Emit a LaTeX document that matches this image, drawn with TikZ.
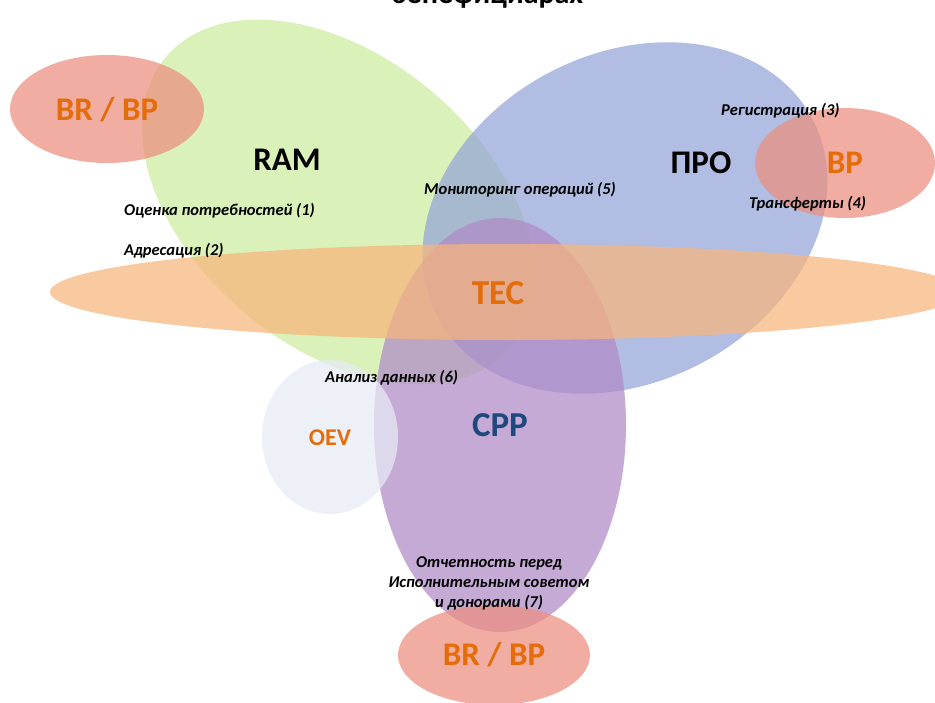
\documentclass[tikz,border=0pt]{standalone}
\usepackage{fontspec}
\setmainfont{Carlito}
\definecolor{cgreen}{RGB}{205,236,159}
\definecolor{cblue}{RGB}{148,164,215}
\definecolor{corange}{RGB}{248,181,124}
\definecolor{cpurple}{RGB}{176,138,199}
\definecolor{csalmon}{RGB}{236,142,126}
\definecolor{coev}{RGB}{231,235,245}
\definecolor{torange}{RGB}{228,108,10}
\definecolor{tblue}{RGB}{31,73,125}
\begin{document}
\begin{tikzpicture}[x=1pt,y=-1pt,
  blob/.style={fill opacity=0.72},
  big/.style={font=\fontsize{33}{35}\selectfont\bfseries, inner sep=0pt},
  bigor/.style={big, text=torange},
  lbl/.style={font=\fontsize{16.5}{20}\selectfont\bfseries\itshape, inner sep=0pt, text=black}]
\useasboundingbox (0,0) rectangle (935,702);
\clip (0,0) rectangle (935,702);
\fill[white] (0,0) rectangle (935,702);
% shapes
\fill[blob, cgreen] (338,202) ellipse [x radius=225, y radius=145, rotate=-40];
\fill[blob, cblue] (625,218) ellipse [x radius=212, y radius=164, rotate=28];
\fill[blob, csalmon] (107,109) ellipse [x radius=97, y radius=54];
\fill[blob, csalmon] (845,163) ellipse [x radius=90, y radius=55];
\fill[blob, cpurple] (500,425) ellipse [x radius=126, y radius=207];
\fill[blob, corange] (506,292) ellipse [x radius=456, y radius=48];
\fill[blob, coev] (330,437) ellipse [x radius=68, y radius=77];
\fill[blob, csalmon] (494,655) ellipse [x radius=96, y radius=50];
% title (cut off at the top edge, as in the reference)
\node[font=\fontsize{30}{32}\selectfont\bfseries, anchor=base, inner sep=0pt] (title) at (487,3) {бенефициарах};
% big labels
\node[big] (ram) at (287,160) {RAM};
\node[big] (pro) at (701,163) {ПРО};
\node[bigor, font=\fontsize{35}{37}\selectfont\bfseries] (tec) at (498,293) {TEC};
\node[big, text=tblue, font=\fontsize{35}{37}\selectfont\bfseries] (cpp) at (500,425) {CPP};
\node[font=\fontsize{24}{26}\selectfont\bfseries, text=torange, inner sep=0pt] (oev) at (330,438) {OEV};
\node[bigor] (br1) at (107,110) {BR / BP};
\node[bigor] (bp2) at (845,163) {BP};
\node[bigor] (br3) at (494,655) {BR / BP};
% small labels
\node[lbl, anchor=west] (l1) at (124,211) {Оценка потребностей (1)};
\node[lbl, anchor=west] (l2) at (124,251) {Адресация (2)};
\node[lbl, anchor=west] (l3) at (721,111) {Регистрация (3)};
\node[lbl, anchor=west] (l4) at (749,204) {Трансферты (4)};
\node[lbl, anchor=west] (l5) at (424,190) {Мониторинг операций (5)};
\node[lbl, anchor=west] (l6) at (325,378) {Анализ данных (6)};
\node[lbl, align=center] (l7) at (489,583) {Отчетность перед\\Исполнительным советом\\и донорами (7)};
\end{tikzpicture}
\end{document}
